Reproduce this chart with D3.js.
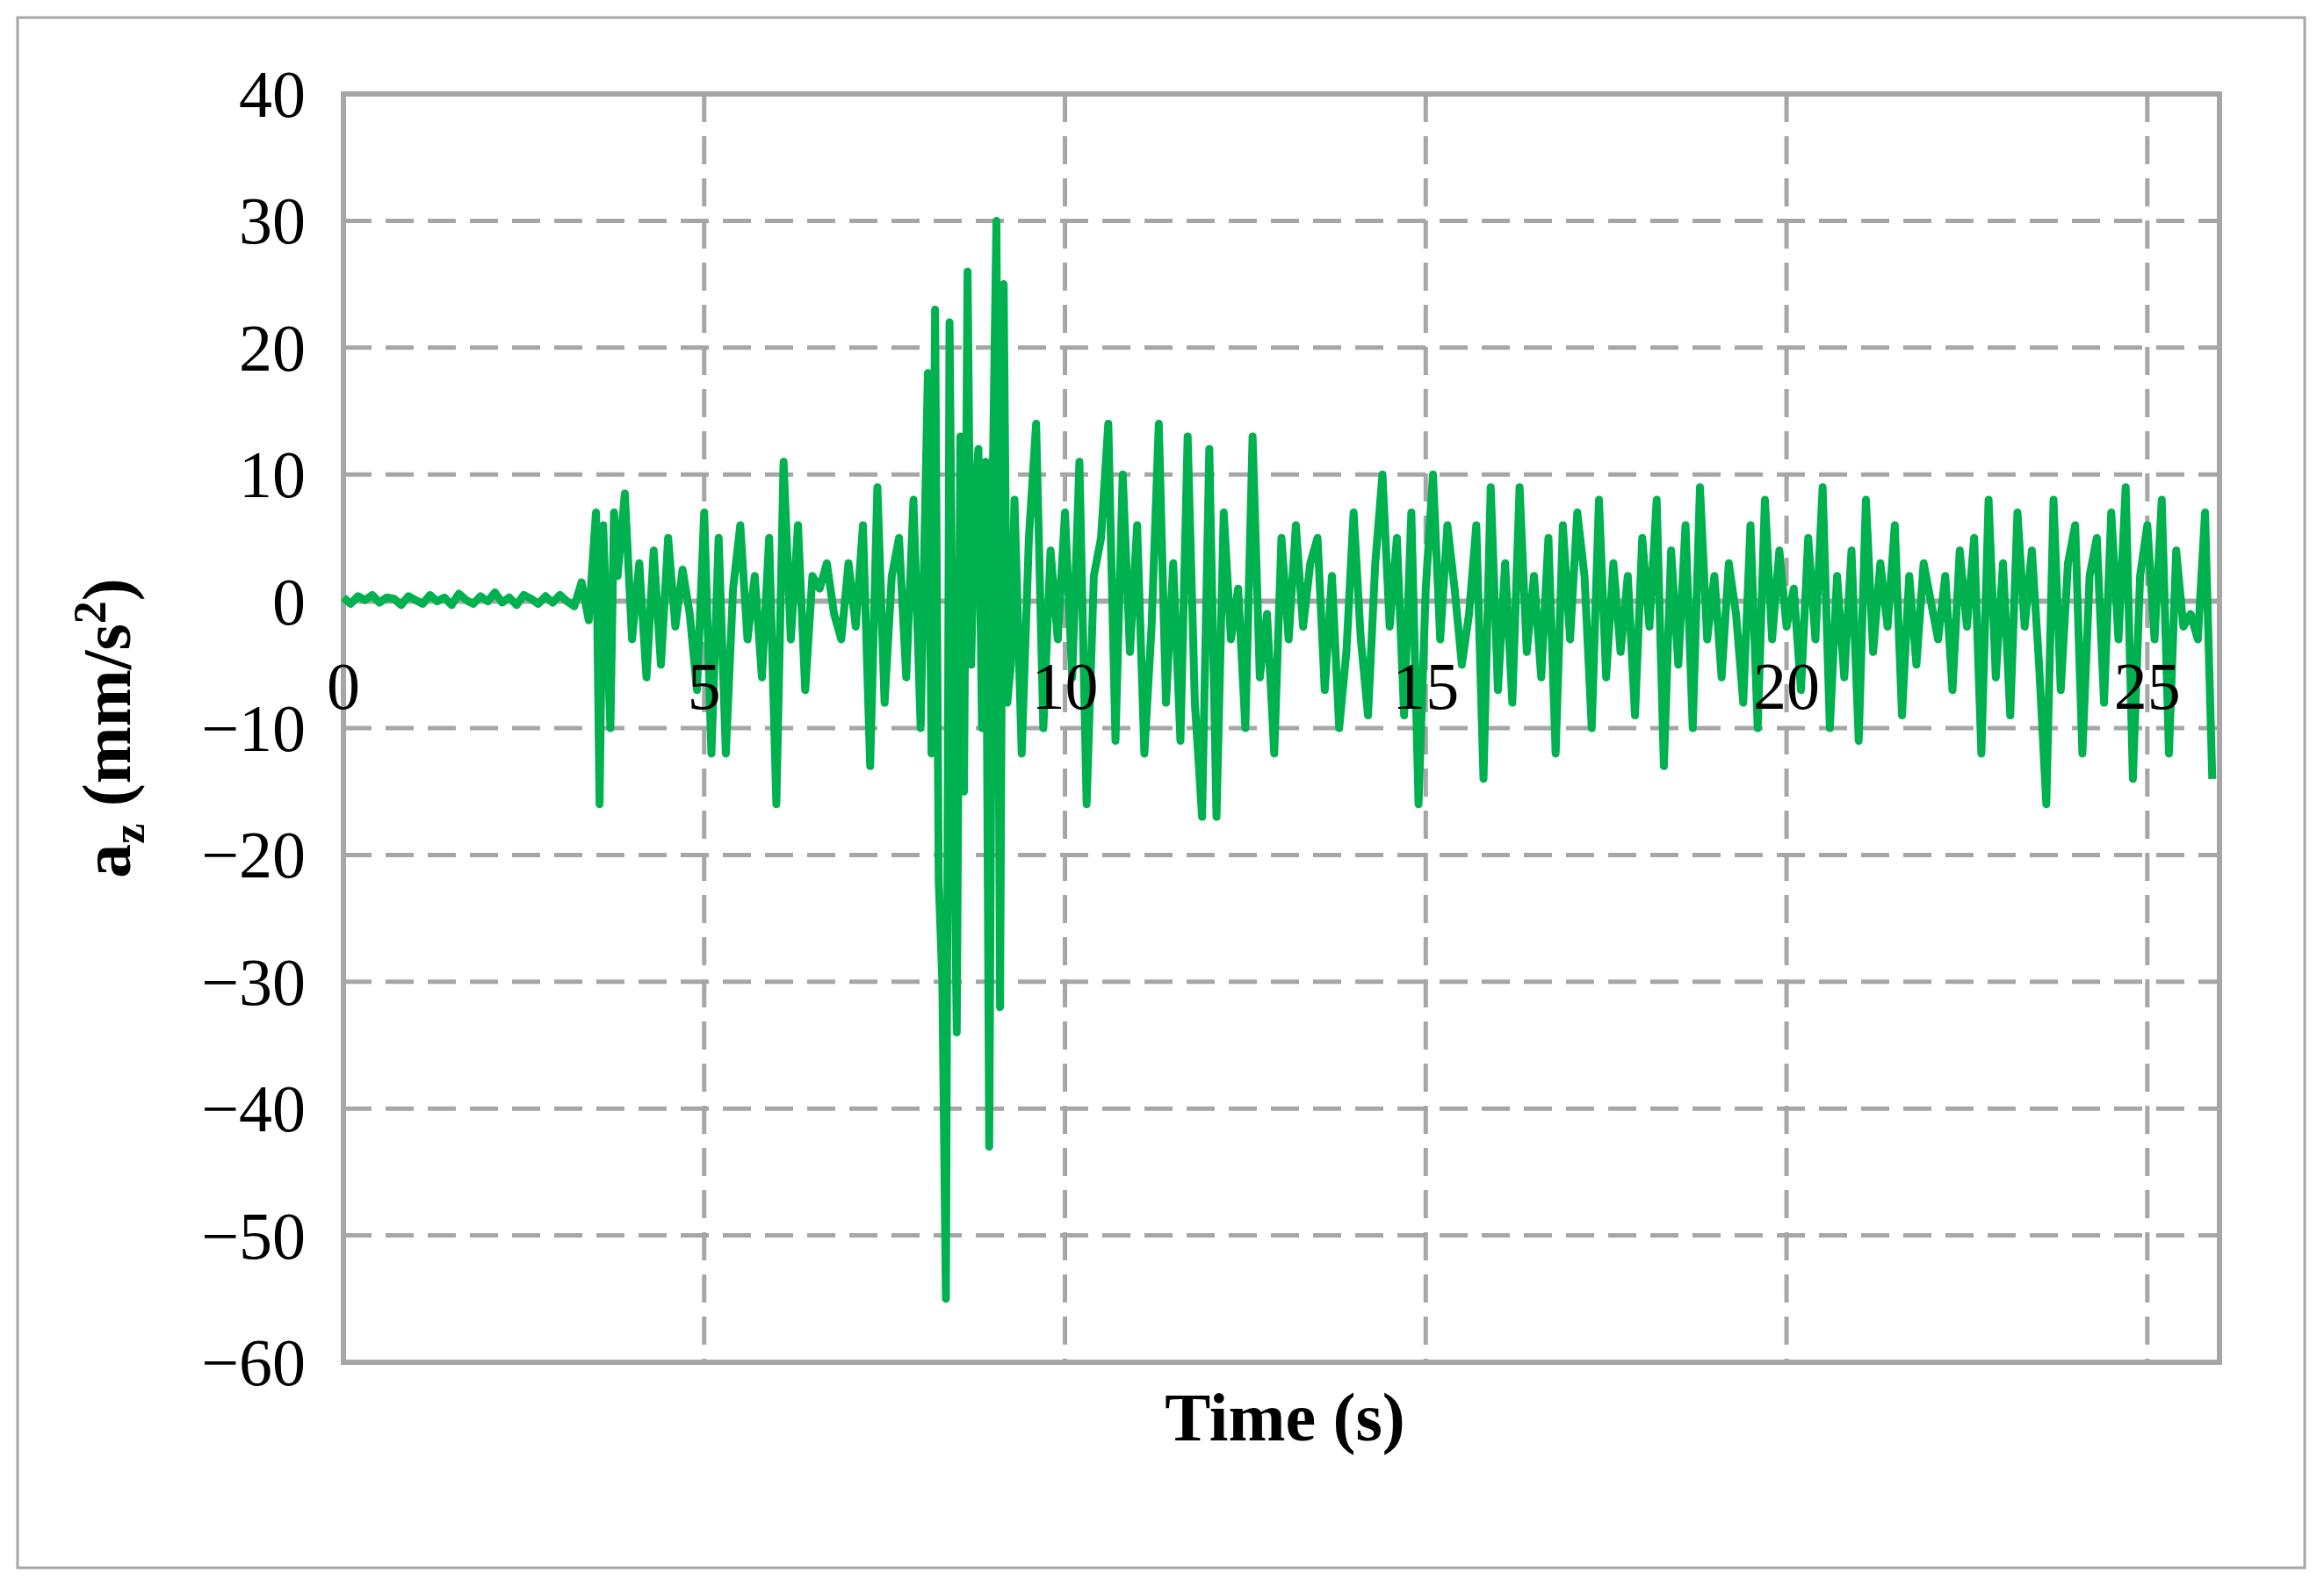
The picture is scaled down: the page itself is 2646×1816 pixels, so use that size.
<!DOCTYPE html>
<html><head><meta charset="utf-8">
<script src="https://cdn.jsdelivr.net/npm/d3@7"></script>
<style>body{margin:0;background:#fff}</style></head>
<body><svg id="c" width="2646" height="1816"></svg>
<script>
const xTicks=[0,5,10,15,20,25];
const yTicks=[40,30,20,10,0,-10,-20,-30,-40,-50,-60];
const times=[0,0.1,0.2,0.3,0.4,0.5,0.6,0.7,0.8,0.9,1.0,1.1,1.2,1.3,1.4,1.5,1.6,1.7,1.8,1.9,2.0,2.1,2.2,2.3,2.4,2.5,2.6,2.7,2.8,2.9,3.0,3.1,3.2,3.3,3.4,
3.5,3.55,3.6,3.7,3.75,3.8,3.9,4.0,4.1,4.2,4.3,4.4,4.5,4.6,4.7,4.8,4.9,5.0,5.1,5.2,5.3,5.4,5.5,5.6,5.7,5.8,5.9,6.0,6.1,6.2,6.3,6.4,6.5,6.6,6.7,6.8,6.9,7.0,7.1,7.2,7.3,7.4,7.5,7.6,7.7,7.8,7.9,8.0,8.1,8.15,8.2,8.25,8.3,8.35,8.4,8.45,8.5,8.55,8.6,8.65,8.7,8.75,8.8,8.85,8.9,8.95,9.0,9.05,9.1,9.15,9.2,9.25,9.3,9.4,9.5,9.6,9.7,9.8,9.9,10.0,10.1,10.2,10.3,10.4,10.5,10.6,10.7,10.8,10.9,11.0,11.1,11.2,11.3,11.4,11.5,11.6,11.7,11.8,11.9,12.0,12.1,12.2,12.3,12.4,12.5,12.6,12.7,12.8,12.9,13.0,13.1,13.2,13.3,13.4,13.5,13.6,13.7,13.8,13.9,14.0,14.1,14.2,14.3,14.4,14.5,14.6,14.7,14.8,14.9,15.0,15.1,15.2,15.3,15.4,15.5,15.6,15.7,15.8,15.9,16.0,16.1,16.2,16.3,16.4,16.5,16.6,16.7,16.8,16.9,17.0,17.1,17.2,17.3,17.4,17.5,17.6,17.7,17.8,17.9,18.0,18.1,18.2,18.3,18.4,18.5,18.6,18.7,18.8,18.9,19.0,19.1,19.2,19.3,19.4,19.5,19.6,19.7,19.8,19.9,20.0,20.1,20.2,20.3,20.4,20.5,20.6,20.7,20.8,20.9,21.0,21.1,21.2,21.3,21.4,21.5,21.6,21.7,21.8,21.9,22.0,22.1,22.2,22.3,22.4,22.5,22.6,22.7,22.8,22.9,23.0,23.1,23.2,23.3,23.4,23.5,23.6,23.7,23.8,23.9,24.0,24.1,24.2,24.3,24.4,24.5,24.6,24.7,24.8,24.9,25.0,25.1,25.2,25.3,25.4,25.5,25.6,25.7,25.8,25.9,26.0];
const accel=[0.3,-0.2,0.4,0.1,0.5,-0.1,0.3,0.2,-0.3,0.4,0.1,-0.2,0.5,0,0.3,-0.3,0.6,0.1,-0.2,0.4,0,0.7,-0.1,0.3,-0.3,0.5,0.2,-0.2,0.4,-0.1,0.5,0,-0.4,1.5,-1.5,
7,-16,6,-10,7,2,8.5,-3,3,-6,4,-5,5,-2,2.5,-1,-7,7,-12,5,-12,1,6,-3,2,-6,5,-16,11,-3,6,-7,2,1,3,-1,-3,3,-2,6,-13,9,-8,2,5,-6,8,-10,18,-12,23,-22,-30,-55,22,-10,-34,13,-15,26,-5,8,12,-10,11,-43,10,30,-32,25,-8,-5,8,-12,5,14,-10,4,-3,7,-6,11,-16,2,5,14,-11,10,-4,6,-12,-2,14,-8,3,-11,13,-8,-17,12,-17,7,-3,1,-10,13,-6,-1,-12,5,-3,6,-2,3,5,-7,2,-10,-4,7,-3,-9,3,10,-2,5,-9,7,-16,1,10,-3,6,1,-5,-1,6,-14,9,-7,3,-8,9,-4,2,-6,5,-12,6,-3,7,2,-10,8,-6,3,-4,2,-9,5,-2,8,-13,4,-5,6,-10,9,-3,2,-6,3,-1,-8,6,-10,8,-3,4,-2,1,-7,5,-3,9,-10,2,-6,4,-11,8,-4,3,-2,6,-9,2,-5,3,0,-3,2,-7,4,-2,5,-12,8,-6,3,-9,7,-2,4,-5,-16,8,-7,3,6,-12,2,5,-8,7,-3,9,-14,2,6,-3,8,-12,4,-2,-1,-3,7,-14];
const svg=d3.select("#c");
const L=391,R=2527,T=107,B=1551;
const x=d3.scaleLinear().domain([0,26]).range([L,R]);
const y=d3.scaleLinear().domain([-60,40]).range([B,T]);
svg.append("rect").attr("x",20).attr("y",20).attr("width",2604).attr("height",1765).attr("fill","none").attr("stroke","#a6a6a6").attr("stroke-width",3);
const g=svg.append("g");
g.selectAll(".hg").data(yTicks.filter(v=>v!==0&&v!==40&&v!==-60)).enter().append("line")
 .attr("x1",L).attr("x2",R).attr("y1",d=>y(d)).attr("y2",d=>y(d)).attr("stroke","#a6a6a6").attr("stroke-width",5).attr("stroke-dasharray","32,16");
g.selectAll(".vg").data(xTicks.filter(v=>v!==0)).enter().append("line")
 .attr("y1",T).attr("y2",B).attr("x1",d=>x(d)).attr("x2",d=>x(d)).attr("stroke","#a6a6a6").attr("stroke-width",5).attr("stroke-dasharray","32,16");
g.append("line").attr("x1",L).attr("x2",R).attr("y1",y(0)).attr("y2",y(0)).attr("stroke","#a6a6a6").attr("stroke-width",6);
g.append("rect").attr("x",L).attr("y",T).attr("width",R-L).attr("height",B-T).attr("fill","none").attr("stroke","#a6a6a6").attr("stroke-width",6);
const data=times.map((t,i)=>[t,accel[i]]);
svg.append("path").datum(data).attr("fill","none").attr("stroke","#00b14f").attr("stroke-width",9).attr("stroke-linejoin","round")
 .attr("d",d3.line().x(d=>x(d[0])).y(d=>y(d[1])));
const font="'Liberation Serif','Times New Roman',serif";
svg.selectAll(".xt").data(xTicks).enter().append("text").attr("x",d=>x(d)).attr("y",y(0)+122).attr("text-anchor","middle")
 .attr("font-family",font).attr("font-size",76).text(d=>d);
svg.selectAll(".yt").data(yTicks).enter().append("text").attr("x",348).attr("y",d=>y(d)+26).attr("text-anchor","end")
 .attr("font-family",font).attr("font-size",76).text(d=>d<0?"\u2212"+Math.abs(d):d);
svg.append("text").attr("x",1463).attr("y",1640).attr("text-anchor","middle").attr("font-family",font).attr("font-size",78).attr("font-weight","bold").text("Time (s)");
const yt=svg.append("text").attr("transform",`translate(148,${(T+B)/2}) rotate(-90)`).attr("text-anchor","middle").attr("font-family",font).attr("font-size",78).attr("font-weight","bold");
yt.append("tspan").text("a");
yt.append("tspan").attr("font-size",52).attr("dy",16).text("z");
yt.append("tspan").attr("dy",-16).text(" (mm/s");
yt.append("tspan").attr("font-size",52).attr("dy",-28).text("2");
yt.append("tspan").attr("dy",28).text(")");
</script></body></html>
